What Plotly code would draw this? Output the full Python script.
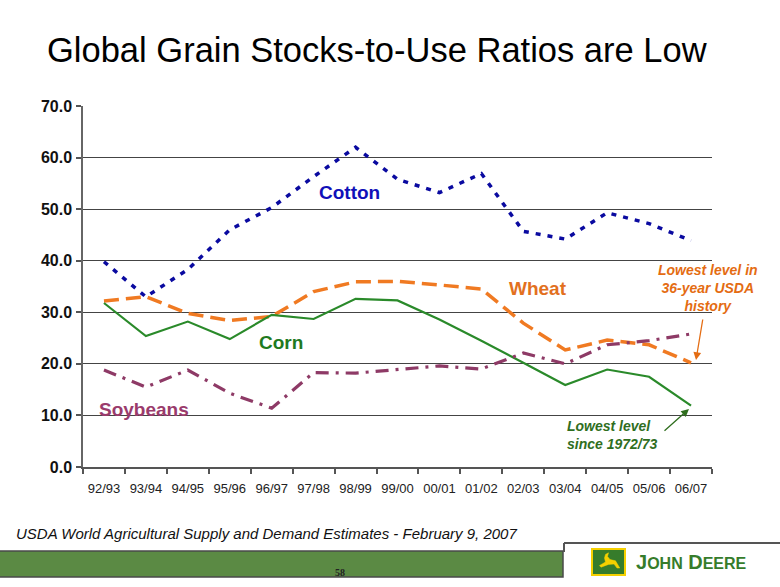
import plotly.graph_objects as go

seasons = ["92/93", "93/94", "94/95", "95/96", "96/97", "97/98", "98/99", "99/00",
           "00/01", "01/02", "02/03", "03/04", "04/05", "05/06", "06/07"]
cotton = [39.8, 33.0, 38.3, 46.0, 50.3, 56.3, 62.0, 55.8, 53.2, 56.9, 45.7, 44.2, 49.3, 47.2, 43.9]
wheat = [32.2, 33.0, 29.8, 28.4, 29.2, 34.0, 35.9, 36.0, 35.3, 34.5, 27.9, 22.7, 24.6, 23.7, 20.2]
corn = [31.8, 25.4, 28.2, 24.8, 29.5, 28.7, 32.6, 32.3, 28.6, 24.5, 20.2, 15.9, 18.9, 17.5, 11.9]
soybeans = [18.8, 15.5, 18.8, 14.3, 11.4, 18.3, 18.2, 18.9, 19.6, 19.0, 22.1, 20.0, 23.7, 24.5, 25.8]
y_ticks = [0, 10, 20, 30, 40, 50, 60, 70]

W, H = 780, 587
L, R, T, B = 83, 712, 106, 467

def px(x):
    return (x - L) / (R - L)

def py(y):
    return (B - y) / (B - T)

BLUE = "#0a0aa0"
ORANGE = "#f07a22"
GREEN = "#2a8a2a"
MAROON = "#8e3a66"

fig = go.Figure()
fig.add_trace(go.Scatter(x=seasons, y=cotton, mode="lines", name="Cotton",
                         line=dict(color=BLUE, width=3.5, dash="5px,7px")))
fig.add_trace(go.Scatter(x=seasons, y=wheat, mode="lines", name="Wheat",
                         line=dict(color=ORANGE, width=3.5, dash="15px,7px")))
fig.add_trace(go.Scatter(x=seasons, y=corn, mode="lines", name="Corn",
                         line=dict(color=GREEN, width=2.2)))
fig.add_trace(go.Scatter(x=seasons, y=soybeans, mode="lines", name="Soybeans",
                         line=dict(color=MAROON, width=3.2, dash="13px,7px,3px,7px")))

ann = []

def label(text, x, y, size, color, family="Liberation Sans", xanchor="center", align="center"):
    ann.append(dict(text=text, xref="paper", yref="paper", x=px(x), y=py(y),
                    xanchor=xanchor, yanchor="middle", align=align, showarrow=False,
                    font=dict(family=family, size=size, color=color)))

label("Global Grain Stocks-to-Use Ratios are Low", 377, 50, 34.5, "#000")
label("<b>Cotton</b>", 349, 192, 19, "#1010b8")
label("<b>Wheat</b>", 538, 288, 19, "#e2701e")
label("<b>Corn</b>", 281, 342, 19, "#1f7a1f")
label("<b>Soybeans</b>", 144, 409, 19, "#9a3b6c")
label("<b><i>Lowest level in<br>36-year USDA<br>history</i></b>", 708, 288, 14, "#e46c12")
label("<b><i>Lowest level<br>since 1972/73</i></b>", 612, 435, 14, "#2f6e1e", align="left")
label("<i>USDA World Agricultural Supply and Demand Estimates - February 9, 2007</i>",
      14, 533, 15, "#111", xanchor="left")
label("<b>58</b>", 340, 572, 10, "#222", family="Liberation Serif")
label("<b>J<span style='font-size:16px'>OHN</span> D<span style='font-size:16px'>EERE</span></b>",
      634, 562, 20, "#367c2b", xanchor="left")

# arrows
ann.append(dict(text="", xref="paper", yref="paper", x=px(696), y=py(360), ax=7, ay=-42,
                showarrow=True, arrowhead=2, arrowsize=1.2, arrowwidth=1.3, arrowcolor="#e46c12"))
ann.append(dict(text="", xref="paper", yref="paper", x=px(689), y=py(409), ax=-26, ay=23,
                showarrow=True, arrowhead=2, arrowsize=1.2, arrowwidth=1.3, arrowcolor="#2f6e1e"))

shapes = []
shapes.append(dict(type="rect", xref="paper", yref="paper", x0=px(-2), x1=px(563), y0=py(577), y1=py(551),
                   fillcolor="#5b8a44", line=dict(color="#4a4a4a", width=1.5), layer="above"))
shapes.append(dict(type="line", xref="paper", yref="paper", x0=px(564), x1=px(782), y0=py(543), y1=py(543),
                   line=dict(color="#555", width=2), layer="above"))
shapes.append(dict(type="line", xref="paper", yref="paper", x0=px(564), x1=px(564), y0=py(543), y1=py(552),
                   line=dict(color="#555", width=2), layer="above"))
shapes.append(dict(type="rect", xref="paper", yref="paper", x0=px(592), x1=px(625), y0=py(575), y1=py(549),
                   fillcolor="#367c2b", line=dict(color="#f5d000", width=2), layer="above"))
deer = [(0.38, 0.12), (0.50, 0.04), (0.46, 0.22), (0.56, 0.38), (0.78, 0.44), (0.95, 0.80),
        (0.84, 0.80), (0.72, 0.60), (0.50, 0.62), (0.20, 0.76), (0.14, 0.68), (0.38, 0.50), (0.34, 0.30)]
x0d, x1d, y0d, y1d = 596, 621, 552, 572
pts = [(px(x0d + u * (x1d - x0d)), py(y0d + v * (y1d - y0d))) for u, v in deer]
path = "M " + " L ".join(f"{a:.5f},{b:.5f}" for a, b in pts) + " Z"
shapes.append(dict(type="path", xref="paper", yref="paper", path=path, fillcolor="#f5d000",
                   line=dict(color="#f5d000", width=0.5), layer="above"))

fig.update_layout(
    width=W, height=H, autosize=False,
    margin=dict(l=L, r=W - R, t=T, b=H - B, pad=0),
    paper_bgcolor="white", plot_bgcolor="white",
    showlegend=False,
    annotations=ann, shapes=shapes,
    font=dict(family="Liberation Sans"),
)
fig.update_xaxes(type="category", tickmode="array", tickvals=seasons, ticktext=seasons,
                 range=[-0.5, len(seasons) - 0.5], tickson="boundaries",
                 ticks="outside", ticklen=5, tickcolor="#555", tickwidth=1.5,
                 showline=True, linecolor="#555", linewidth=1.5, showgrid=False,
                 tickangle=0,
                 tickfont=dict(family="Liberation Sans", size=13, color="#222"),
                 ticklabelstandoff=9)
fig.update_yaxes(range=[0, 70], tickmode="array", tickvals=y_ticks,
                 ticktext=[f"{v:.1f}" for v in y_ticks],
                 ticks="outside", ticklen=5, tickcolor="#555", tickwidth=1.5,
                 showline=True, linecolor="#666", linewidth=1.5,
                 showgrid=True, gridcolor="#444", gridwidth=1.2, zeroline=False,
                 tickfont=dict(family="Liberation Sans", size=16, color="#111", weight="bold"),
                 ticklabelstandoff=1)

fig.write_html("out.html", config={"displayModeBar": False},
               post_script="document.body.style.margin='0px';")
